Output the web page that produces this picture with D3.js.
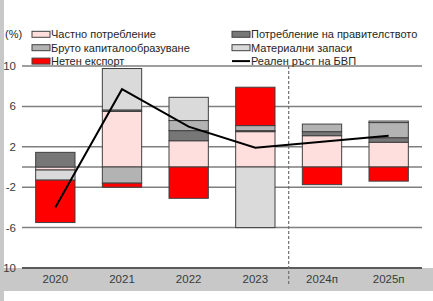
<!DOCTYPE html>
<html>
<head>
<meta charset="utf-8">
<script src="https://cdn.jsdelivr.net/npm/d3@7"></script>
<style>
  body { margin: 0; background: #fff; }
  svg { display: block; font-family: "Liberation Sans", Arial, sans-serif; }
  .tick-label { font-size: 11.5px; fill: #3a3a3a; }
  .legend-label { font-size: 11px; fill: #262626; }
</style>
</head>
<body>
<div id="chart"></div>
<script>
// categories and values (percentage points)
var years = ["2020", "2021", "2022", "2023", "2024п", "2025п"];
var privateCons = [-0.3, 5.5, 2.6, 3.5, 3.1, 2.45];
var govCons = [1.45, 0.15, 1.0, 0.1, 0.4, 0.45];
var grossCapital = [0, -1.6, 1.0, 0.5, 0.75, 1.5];
var inventories = [-1.0, 4.1, 2.3, -6.0, 0, 0.15];
var netExport = [-4.2, -0.4, -3.1, 3.8, -1.75, -1.4];
var gdpGrowth = [-4.0, 7.7, 4.0, 1.9, 2.5, 3.1];
var yTicks = [10, 6, 2, -2, -6, -10];
var yTickLabels = ["10", "6", "2", "-2", "-6", "10"];

var series = [
    {key: "private", name: "Частно потребление", values: privateCons, color: "#ffdede"},
    {key: "gov", name: "Потребление на правителството", values: govCons, color: "#777777"},
    {key: "capital", name: "Бруто капиталообразуване", values: grossCapital, color: "#b3b3b3"},
    {key: "inv", name: "Материални запаси", values: inventories, color: "#dadada"},
    {key: "net", name: "Нетен експорт", values: netExport, color: "#ff0000"}
];

var w = 433, h = 301;
var svg = d3.select('#chart').append('svg')
    .attr('width', w).attr('height', h);

var x = d3.scaleBand().domain(years).range([22, 422])
    .paddingInner(0.41).paddingOuter(0.205);
var y = d3.scaleLinear().domain([-10, 10]).range([268, 66]);

// grey frame pieces from the original slide
svg.append('rect').attr('x', 0).attr('y', 268).attr('width', w).attr('height', 23).attr('fill', '#c8c8c8');
svg.append('rect').attr('x', 0).attr('y', 0).attr('width', 4).attr('height', h).attr('fill', '#c8c8c8');

// gridlines
svg.selectAll('.grid').data(yTicks.concat([0])).enter().append('line')
    .attr('x1', 22).attr('x2', 422)
    .attr('y1', d => y(d)).attr('y2', d => y(d))
    .attr('stroke', d => d === -10 ? '#5a5a5a' : '#7f7f7f')
    .attr('stroke-width', d => d === -10 ? 2 : 1.5);

svg.selectAll('.ylab').data(yTicks).enter().append('text')
    .attr('class', 'tick-label')
    .attr('x', 16).attr('y', d => y(d) + 4)
    .attr('text-anchor', 'end')
    .text((d, i) => yTickLabels[i]);

// stacked bars
var table = years.map(function (yr, i) {
    var row = {year: yr};
    series.forEach(s => row[s.key] = s.values[i]);
    return row;
});
var stack = d3.stack().keys(series.map(s => s.key)).offset(d3.stackOffsetDiverging);
var stacked = stack(table);

stacked.forEach(function (layer, li) {
    svg.append('g').selectAll('rect').data(layer).enter().append('rect')
        .attr('x', d => x(d.data.year))
        .attr('width', x.bandwidth())
        .attr('y', d => y(Math.max(d[0], d[1])))
        .attr('height', d => Math.abs(y(d[0]) - y(d[1])))
        .attr('fill', series[li].color)
        .attr('stroke', '#404040')
        .attr('stroke-width', d => d[0] === d[1] ? 0 : 1);
});

// forecast separator
var sepX = x("2024п") - x.step() * x.paddingInner() / 2;
svg.append('line')
    .attr('x1', sepX).attr('x2', sepX).attr('y1', 66).attr('y2', 285)
    .attr('stroke', '#707070').attr('stroke-width', 1.2)
    .attr('stroke-dasharray', '3,2');

// GDP line
var line = d3.line()
    .x((d, i) => x(years[i]) + x.bandwidth() / 2)
    .y(d => y(d));
svg.append('path').datum(gdpGrowth)
    .attr('d', line)
    .attr('fill', 'none').attr('stroke', '#000').attr('stroke-width', 2);

// x labels
svg.selectAll('.xlab').data(years).enter().append('text')
    .attr('class', 'tick-label')
    .attr('x', d => x(d) + x.bandwidth() / 2).attr('y', 283)
    .attr('text-anchor', 'middle')
    .text(d => d);

// legend
svg.append('text').attr('class', 'legend-label').attr('x', 5).attr('y', 38).text('(%)');
var legendItems = [
    {s: series[0], col: 0, row: 0},
    {s: series[1], col: 1, row: 0},
    {s: series[2], col: 0, row: 1},
    {s: series[3], col: 1, row: 1},
    {s: series[4], col: 0, row: 2},
    {s: {name: "Реален ръст на БВП", line: true}, col: 1, row: 2}
];
legendItems.forEach(function (item) {
    var lx = item.col === 0 ? 32 : 232;
    var ly = 34.3 + item.row * 13.4;
    if (item.s.line) {
        svg.append('line').attr('x1', lx).attr('x2', lx + 18)
            .attr('y1', ly).attr('y2', ly)
            .attr('stroke', '#000').attr('stroke-width', 2);
    } else {
        svg.append('rect').attr('x', lx).attr('y', ly - 3)
            .attr('width', 18).attr('height', 6)
            .attr('fill', item.s.color).attr('stroke', '#404040').attr('stroke-width', 1);
    }
    svg.append('text').attr('class', 'legend-label')
        .attr('x', lx + 19).attr('y', ly + 4)
        .text(item.s.name);
});
</script>
</body>
</html>
